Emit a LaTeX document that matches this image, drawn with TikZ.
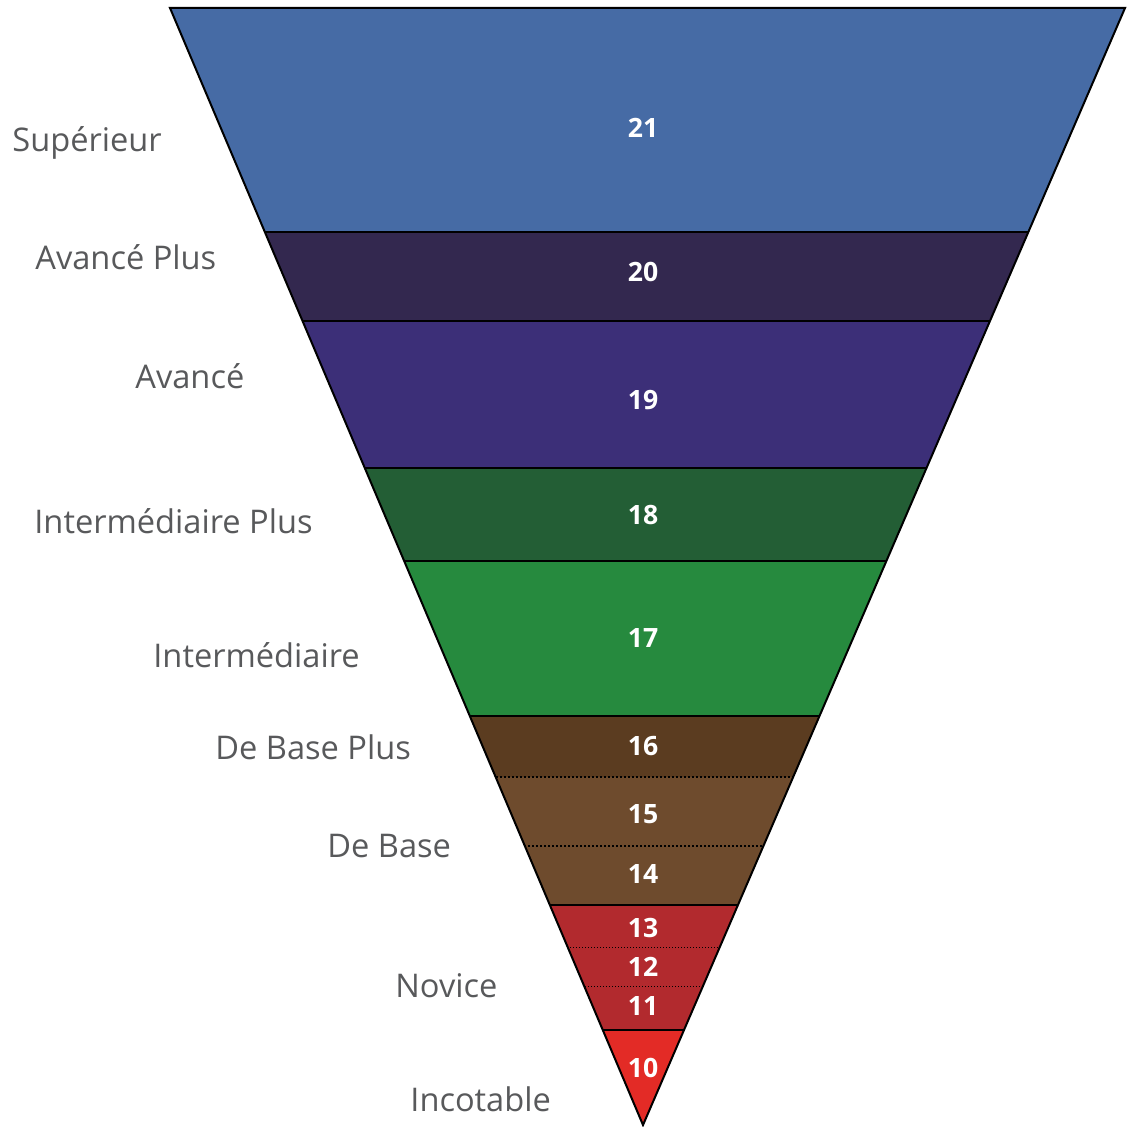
\documentclass[tikz,border=0pt]{standalone}
\usepackage{fontspec}
\setmainfont{Open Sans}
\definecolor{c21}{HTML}{466BA5}
\definecolor{c20}{HTML}{33284F}
\definecolor{c19}{HTML}{3C2F78}
\definecolor{c18}{HTML}{235E35}
\definecolor{c17}{HTML}{268A3E}
\definecolor{c16}{HTML}{5B3C20}
\definecolor{c15}{HTML}{6E4B2D}
\definecolor{c14}{HTML}{6E4B2D}
\definecolor{c13}{HTML}{B22A2E}
\definecolor{c10}{HTML}{E32B26}
\definecolor{lab}{HTML}{58595B}
\tikzset{
  num/.style={text=white, font=\fontsize{13.3}{15}\selectfont\bfseries, inner sep=0pt},
  lvl/.style={text=lab, font=\fontsize{16.3}{19}\selectfont, anchor=west, inner sep=0pt},
  major/.style={draw=black, line width=0.9pt},
  minordash/.style={draw=black, line width=0.6pt, dash pattern=on 1.2pt off 0.8pt},
  minordot/.style={draw=black, line width=0.5pt, dash pattern=on 0.6pt off 0.9pt}
}
\begin{document}
\begin{tikzpicture}[x=0.5pt, y=-0.5pt]
\useasboundingbox (0,0) rectangle (1127,1127);
\coordinate (tl) at (170,8);
\coordinate (tr) at (1125,8);
\coordinate (ap) at (643,1125);
\begin{scope}
  \clip (tl) -- (tr) -- (ap) -- cycle;
  \fill[c21] (0,0) rectangle (1127,232);
  \fill[c20] (0,232) rectangle (1127,321);
  \fill[c19] (0,321) rectangle (1127,468);
  \fill[c18] (0,468) rectangle (1127,561);
  \fill[c17] (0,561) rectangle (1127,716);
  \fill[c16] (0,716) rectangle (1127,777);
  \fill[c15] (0,777) rectangle (1127,846);
  \fill[c14] (0,846) rectangle (1127,905);
  \fill[c13] (0,905) rectangle (1127,1030);
  \fill[c10] (0,1030) rectangle (1127,1130);
  \foreach \yy in {232,321,468,561,716,905,1030} \draw[major] (0,\yy) -- (1127,\yy);
  \foreach \yy in {777,846} \draw[minordash] (0,\yy) -- (1127,\yy);
  \foreach \yy in {947,986} \draw[minordot] (0,\yy) -- (1127,\yy);
\end{scope}
\draw[line width=1pt, line join=miter] (tl) -- (tr) -- (ap) -- cycle;

\node[num] (n21) at (643,128) {21};
\node[num] (n20) at (643,272) {20};
\node[num] (n19) at (643,400) {19};
\node[num] (n18) at (643,515) {18};
\node[num] (n17) at (643,638) {17};
\node[num] (n16) at (643,746) {16};
\node[num] (n15) at (643,814) {15};
\node[num] (n14) at (643,874) {14};
\node[num] (n13) at (643,928) {13};
\node[num] (n12) at (643,967) {12};
\node[num] (n11) at (643,1006) {11};
\node[num] (n10) at (643,1068) {10};

\node[lvl] (sup) at (12,143) {Supérieur};
\node[lvl] (avp) at (35,257) {Avancé Plus};
\node[lvl] (ava) at (135,376) {Avancé};
\node[lvl] (imp) at (34,521) {Intermédiaire Plus};
\node[lvl] (int) at (153,655) {Intermédiaire};
\node[lvl] (dbp) at (215,747) {De Base Plus};
\node[lvl] (dba) at (327,846) {De Base};
\node[lvl] (nov) at (395,986) {Novice};
\node[lvl] (inc) at (410,1099) {Incotable};
\end{tikzpicture}
\end{document}
